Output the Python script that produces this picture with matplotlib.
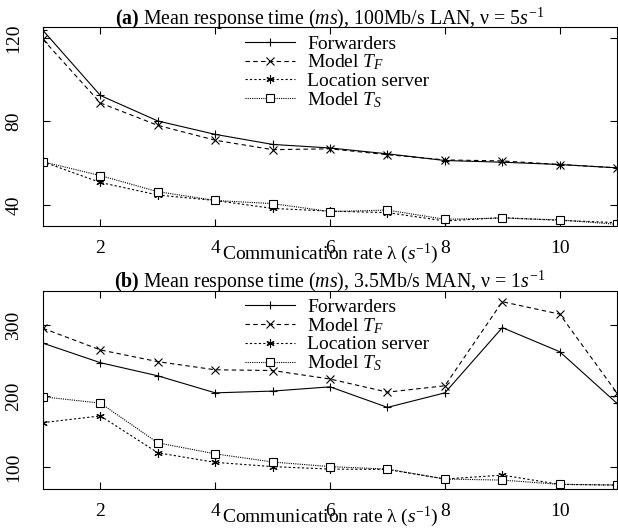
import matplotlib
matplotlib.use('Agg')
import matplotlib.pyplot as plt

plt.rcParams['font.family'] = ['Liberation Serif', 'DejaVu Serif']
plt.rcParams['mathtext.fontset'] = 'custom'
plt.rcParams['mathtext.rm'] = 'Liberation Serif'
plt.rcParams['mathtext.it'] = 'Liberation Serif:italic'
plt.rcParams['mathtext.bf'] = 'Liberation Serif:bold'
plt.rcParams['font.size'] = 14

# communication rate
rate = [1, 2, 3, 4, 5, 6, 7, 8, 9, 10, 11]

# (a) 100Mb/s LAN
lan_forwarders = [123.5, 92.4, 80.2, 73.8, 69.0, 67.3, 64.5, 61.3, 60.5, 59.4, 57.8]
lan_model_tf = [119.2, 88.8, 78.1, 71.0, 66.5, 66.9, 64.1, 61.6, 61.1, 59.4, 57.8]
lan_location = [60.7, 50.8, 44.8, 42.2, 38.4, 37.1, 36.4, 32.4, 34.0, 32.7, 31.6]
lan_model_ts = [60.7, 54.1, 46.4, 42.2, 40.7, 36.9, 37.6, 33.2, 33.8, 32.9, 30.8]

# (b) 3.5Mb/s MAN
man_forwarders = [275, 247.5, 229, 205, 207.5, 213.5, 184.5, 205, 297, 263, 190]
man_model_tf = [296, 265.5, 249, 237.5, 236.5, 224.5, 206, 215, 333.5, 316, 204.5]
man_location = [163, 172.5, 120.5, 107, 101, 97.5, 97, 83.5, 89, 76, 75]
man_model_ts = [199.5, 190.5, 134.5, 119, 107.5, 101, 97.5, 83.5, 82, 76, 75]

labels = ['Forwarders', 'Model $T_F$', 'Location server', 'Model $T_S$']
styles = [
    dict(linestyle='-', marker='+'),
    dict(linestyle=(0, (4, 3)), marker='x'),
    dict(linestyle=(0, (2, 2)), marker=(6, 2, 0)),
    dict(linestyle=(0, (1, 1)), marker='s', markerfacecolor='white'),
]

fig = plt.figure(figsize=(6.18, 5.31), dpi=100)
ax1 = fig.add_axes([0.0696, 0.5744, 0.929, 0.3742])
ax2 = fig.add_axes([0.0696, 0.0785, 0.929, 0.374])


def draw(ax, series, ylim, yticks, title):
    for y, lab, st in zip(series, labels, styles):
        ax.plot(rate, y, color='black', linewidth=0.8, markersize=6,
                markeredgewidth=0.8, label=lab, **st)
    ax.set_xlim(1, 11)
    ax.set_ylim(*ylim)
    ax.set_xticks([2, 4, 6, 8, 10])
    ax.set_yticks(yticks)
    ax.tick_params(direction='in', top=True, right=True, length=5,
                   labelsize=14)
    ax.tick_params(axis='x', pad=10)
    ax.tick_params(axis='y', pad=15)
    for t in ax.get_yticklabels():
        t.set_rotation(90)
        t.set_va('center')
    ax.set_xlabel(r'Communication rate λ ($s^{\mathrm{-1}}$)', labelpad=-11,
                  fontsize=14)
    ax.set_title(title, pad=2, fontsize=14.3)
    ax.legend(loc='upper left', bbox_to_anchor=(0.338, 1.0), frameon=False,
              borderpad=0.4, borderaxespad=0, handlelength=2.6,
              handletextpad=0.6, labelspacing=0.0, fontsize=14)


draw(ax1, [lan_forwarders, lan_model_tf, lan_location, lan_model_ts],
     (30, 125), [40, 80, 120],
     r'$\mathbf{(a)}$ Mean response time ($ms$), 100Mb/s LAN, ν = 5$s^{\mathrm{-1}}$')
draw(ax2, [man_forwarders, man_model_tf, man_location, man_model_ts],
     (69, 349), [100, 200, 300],
     r'$\mathbf{(b)}$ Mean response time ($ms$), 3.5Mb/s MAN, ν = 1$s^{\mathrm{-1}}$')

fig.savefig('out.png', dpi=100)
